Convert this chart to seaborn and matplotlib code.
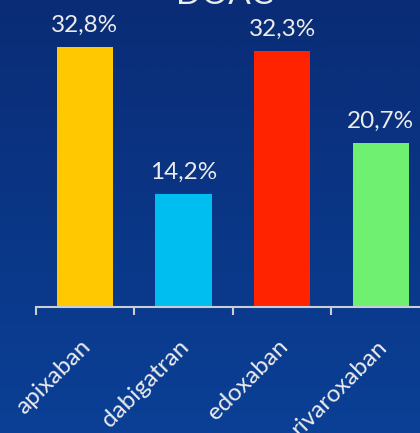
import numpy as np
import matplotlib
matplotlib.use('Agg')
import matplotlib.pyplot as plt
import matplotlib.transforms as mtransforms
import seaborn as sns

drugs = ['apixaban', 'dabigatran', 'edoxaban', 'rivaroxaban']
shares = [32.8, 14.2, 32.3, 20.7]
labels = ['32,8%', '14,2%', '32,3%', '20,7%']
colors = ['#FFC800', '#00BEF0', '#FF2300', '#70F070']
title = 'DOAC'

sns.set_style('white')
plt.rcParams['font.family'] = ['Lato', 'DejaVu Sans']

W, H = 420, 433
fig = plt.figure(figsize=(W / 100, H / 100), dpi=100)

# gradient background
bg = fig.add_axes([0, 0, 1, 1])
grad = np.linspace(0, 1, 256).reshape(-1, 1)
top = np.array([10, 44, 118]) / 255
bot = np.array([10, 64, 150]) / 255
img = top + (bot - top) * grad[:, :, None]
bg.imshow(img, aspect='auto', extent=[0, 1, 0, 1])
bg.set_axis_off()

# axes: x from -0.5 at px 35 to 3.5 at px ~430, y=0 at px 307
x0 = 35.5 / W
x1 = 430.0 / W
y0 = (H - 307) / H
ax = fig.add_axes([x0, y0, x1 - x0, 1 - y0])
ax.patch.set_alpha(0)

sns.barplot(x=drugs, y=shares, hue=drugs, palette=colors, legend=False,
            width=0.57, saturation=1, linewidth=0, edgecolor='none', ax=ax)
ax.set_xlim(-0.5, 3.5)
ax.set_ylim(0, 38.7)

for i, (v, t) in enumerate(zip(shares, labels)):
    ax.annotate(t, (i, v), xytext=(0, 8), textcoords='offset points',
                ha='center', va='bottom', color='#ececec', fontsize=17.5)

sns.despine(ax=ax, left=True)
ax.spines['bottom'].set_color('#c8cdd8')
ax.spines['bottom'].set_linewidth(1.5)
ax.set_yticks([])
ax.set_xticks(np.arange(-0.5, 4, 1))
ax.set_xticklabels([])
ax.tick_params(axis='x', which='major', direction='out', length=6,
               width=1.5, color='#c8cdd8', bottom=True)
ax.set_xticks(range(len(drugs)), minor=True)
ax.set_xticklabels(drugs, minor=True, rotation=45, ha='right',
                   rotation_mode='anchor', color='#ececec', fontsize=17.5)
ax.tick_params(axis='x', which='minor', length=0, pad=20)
shift = mtransforms.ScaledTranslation(-5 / 100, -1 / 100, fig.dpi_scale_trans)
for lab in ax.get_xticklabels(minor=True):
    lab.set_transform(lab.get_transform() + shift)
ax.set_xlabel('')
ax.set_ylabel('')

fig.text(225 / W, 1 - 4 / H, title, ha='center', va='baseline',
         color='#ececec', fontsize=24)

fig.savefig('out.png', dpi=100)
